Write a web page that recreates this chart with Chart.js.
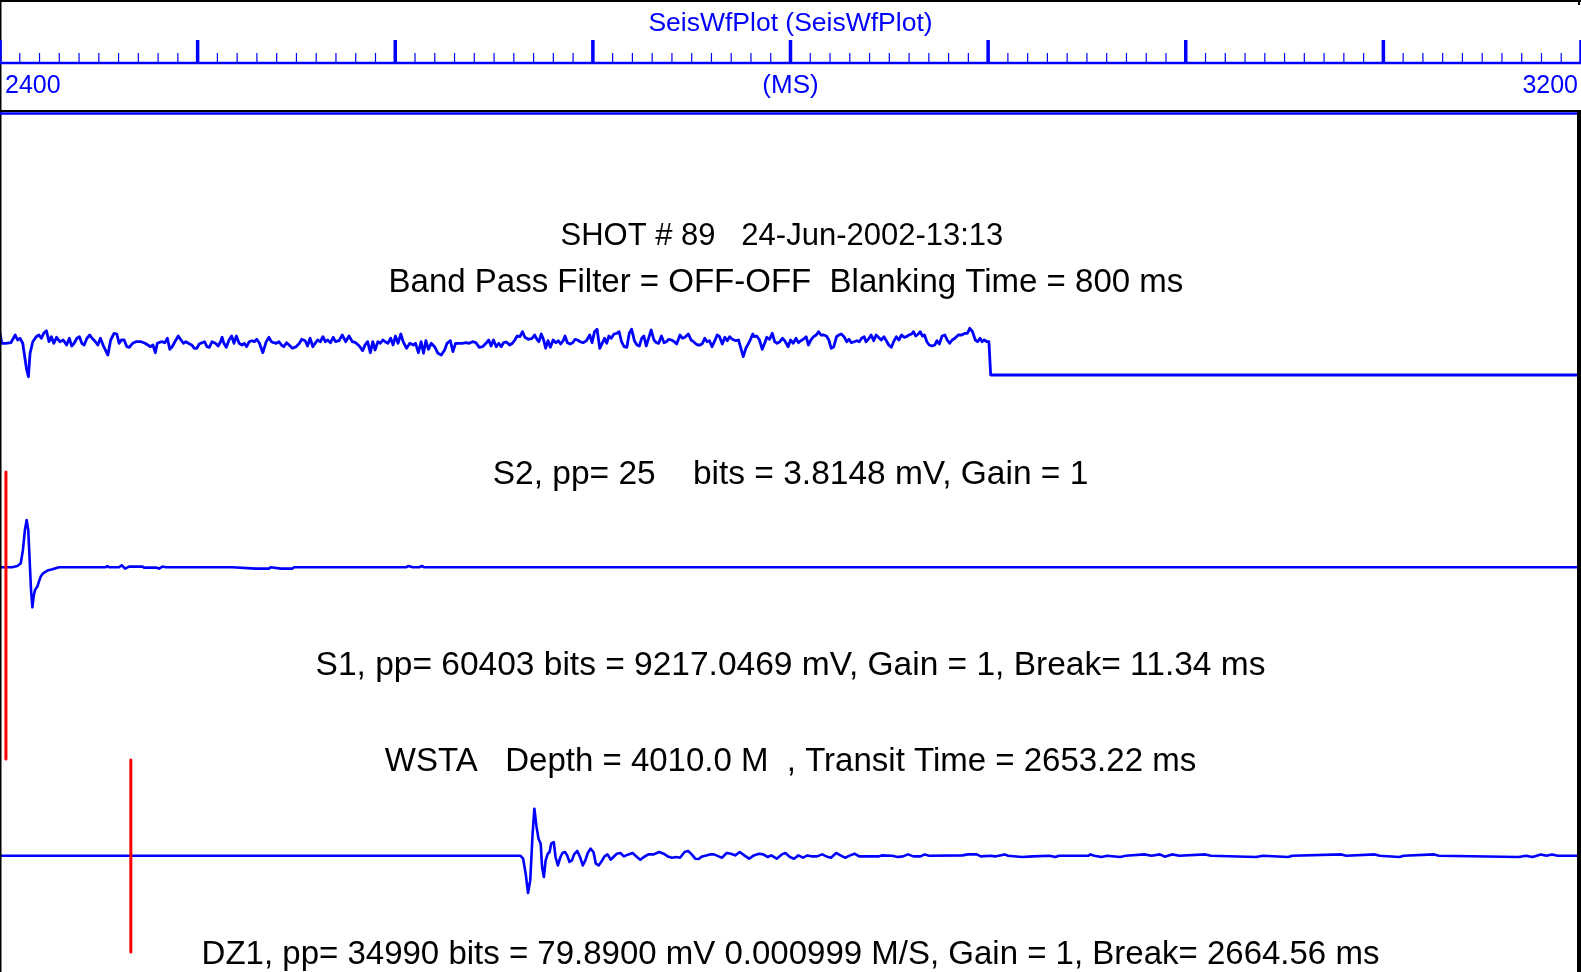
<!DOCTYPE html>
<html>
<head>
<meta charset="utf-8">
<title>SeisWfPlot</title>
<script src="https://cdn.jsdelivr.net/npm/chart.js@4.4.1/dist/chart.umd.min.js"></script>
<style>
  html, body { margin: 0; padding: 0; background: #fff; overflow: hidden; }
  #wrap { width: 1581px; height: 972px; }
</style>
</head>
<body>
<div id="wrap"><canvas id="seisChart" width="1581" height="972"></canvas></div>
<script>
// Time axis (ms)
const axisRange = [2400, 3200];
const majorStep = 100;
const minorStep = 10;
const tickLabels = ["2400", "(MS)", "3200"];
const plotTitle = "SeisWfPlot (SeisWfPlot)";

// S2 trace: time (ms) / amplitude (display units)
const s2Time = [
  2400.0, 2400.9, 2402.9, 2405.5, 2407.7, 2408.9, 2410.1, 2411.5, 2413.5, 2414.4,
  2415.2, 2416.6, 2418.3, 2419.7, 2420.9, 2422.1, 2423.5, 2424.8, 2426.0, 2427.2,
  2428.6, 2430.3, 2432.0, 2433.7, 2435.1, 2436.3, 2437.5, 2438.9, 2440.2, 2441.4,
  2442.6, 2444.0, 2445.4, 2446.6, 2448.3, 2449.5, 2450.8, 2452.5, 2454.6, 2456.0,
  2457.7, 2459.1, 2460.3, 2461.4, 2462.8, 2464.2, 2465.4, 2467.1, 2468.8, 2471.4,
  2473.4, 2474.8, 2476.2, 2477.4, 2478.6, 2479.6, 2481.6, 2483.4, 2484.7, 2485.9,
  2487.1, 2488.5, 2490.2, 2491.6, 2492.8, 2494.0, 2495.3, 2497.0, 2498.4, 2499.6,
  2500.8, 2502.2, 2503.5, 2504.7, 2505.9, 2507.3, 2509.0, 2510.4, 2511.6, 2512.4,
  2513.3, 2514.5, 2515.9, 2517.2, 2518.4, 2519.6, 2521.0, 2522.4, 2523.6, 2524.8,
  2526.1, 2527.5, 2528.7, 2529.9, 2531.3, 2533.0, 2534.7, 2536.1, 2537.3, 2538.5,
  2539.8, 2541.2, 2542.4, 2543.6, 2545.0, 2546.3, 2548.0, 2549.8, 2551.5, 2552.7,
  2554.4, 2555.6, 2556.9, 2558.3, 2559.5, 2560.7, 2562.1, 2563.4, 2564.6, 2565.8,
  2567.2, 2568.6, 2569.8, 2571.5, 2573.2, 2574.9, 2576.6, 2578.3, 2580.0, 2581.8,
  2583.5, 2584.7, 2586.0, 2587.4, 2588.6, 2589.8, 2591.2, 2592.5, 2593.7, 2594.9,
  2596.3, 2597.7, 2598.9, 2600.1, 2601.4, 2602.8, 2604.0, 2605.7, 2607.4, 2609.1,
  2610.3, 2611.7, 2613.1, 2614.3, 2615.5, 2616.8, 2618.2, 2619.9, 2621.6, 2623.3,
  2625.0, 2626.2, 2627.9, 2629.2, 2630.5, 2632.2, 2633.9, 2635.7, 2637.4, 2639.1,
  2640.8, 2642.5, 2644.2, 2645.9, 2647.3, 2648.5, 2649.7, 2651.1, 2652.4, 2653.6,
  2654.8, 2656.2, 2657.9, 2659.3, 2660.5, 2661.7, 2663.0, 2664.4, 2665.6, 2667.3,
  2669.3, 2670.5, 2671.7, 2672.7, 2673.9, 2675.1, 2676.1, 2677.3, 2678.5, 2679.9,
  2681.3, 2682.5, 2683.7, 2685.0, 2685.9, 2687.1, 2688.5, 2689.8, 2691.0, 2692.2,
  2693.6, 2695.0, 2696.7, 2698.4, 2699.6, 2700.8, 2702.1, 2703.5, 2704.7, 2705.9,
  2707.0, 2708.1, 2709.3, 2710.7, 2712.1, 2713.3, 2714.5, 2715.8, 2717.2, 2718.4,
  2719.6, 2721.0, 2722.3, 2723.5, 2724.7, 2725.8, 2727.0, 2728.2, 2729.5, 2730.9,
  2732.1, 2733.3, 2734.7, 2736.0, 2737.2, 2738.4, 2739.8, 2741.2, 2742.4, 2744.1,
  2745.3, 2746.6, 2748.3, 2749.7, 2750.9, 2751.8, 2753.1, 2754.3, 2755.5, 2756.6,
  2757.8, 2759.0, 2760.3, 2761.7, 2762.9, 2764.1, 2765.5, 2766.8, 2768.0, 2769.2,
  2770.6, 2772.3, 2773.7, 2774.9, 2776.1, 2777.4, 2778.8, 2780.0, 2780.9, 2781.7,
  2782.9, 2784.3, 2785.7, 2786.9, 2788.0, 2789.4, 2790.8, 2792.0, 2793.2, 2794.6,
  2795.9, 2797.1, 2798.8, 2800.0, 2801.4, 2802.8, 2804.0, 2805.2, 2806.5, 2807.9,
  2809.1, 2810.3, 2811.7, 2813.0, 2814.2, 2815.4, 2816.8, 2818.2, 2819.4, 2820.6,
  2821.9, 2823.3, 2824.5, 2825.7, 2827.1, 2828.4, 2829.6, 2830.8, 2832.2, 2833.6,
  2834.8, 2836.0, 2837.3, 2838.2, 2839.4, 2840.8, 2842.1, 2843.3, 2844.5, 2845.9,
  2847.3, 2848.5, 2849.7, 2851.0, 2852.4, 2853.6, 2854.8, 2856.2, 2857.5, 2858.7,
  2859.9, 2861.3, 2862.2, 2863.4, 2864.7, 2865.6, 2866.8, 2867.8, 2869.0, 2870.2,
  2871.6, 2873.0, 2874.1, 2875.3, 2876.7, 2878.1, 2879.3, 2880.5, 2881.8, 2883.2,
  2884.9, 2886.6, 2888.3, 2889.5, 2890.7, 2892.1, 2893.5, 2894.7, 2895.9, 2896.9,
  2898.1, 2899.3, 2900.4, 2901.3, 3200.0
];
const s2Amp = [
  6.7, -3.3, -3.3, -2.7, 5, 0, 1.7, -3.3, -30, -36.7,
  -13.3, -1.7, 3.3, 5, 1.7, 6.7, 9.3, -1.7, 3.3, -3.3,
  2.7, -1.7, 0, -5, 1.7, -6, -3.3, 1.7, 3.3, -3.3,
  -5, 1.7, 5, 1.7, -1.7, -5, 1.7, -6.7, -15, 0,
  6.7, 6, -3.3, 0, 0, -6.7, -7.3, -3.3, -1.7, -1.7,
  -3.3, -5, -6.7, -5, -12.7, -3.3, -1.7, -2.7, 1.7, -9.3,
  -6.7, -1.7, 4, 0, -3.3, -1.7, -3.3, -5, -8.3, -8.3,
  -4, -2.7, -1.7, -6.7, -7.3, -1.7, -3.3, -6, -1.7, 2.7,
  -3.3, -7.3, 0, 4, -3.3, 4, -3.3, -5, -3.3, -6.7,
  -1.7, -0.7, -1.7, 0.7, -3.3, -12.7, -1.7, 2.7, -1.7, -2.7,
  -3.3, -1.7, -5, -6.7, -2.7, -5, -8.3, -6.7, -3.3, 0.7,
  -0.7, -6, 1.7, -6.7, -3.3, 0, -1.7, 3.3, -1.7, 0,
  -2.7, 2.7, -1.7, -0.7, 5, -1.7, 4, -1.7, -2.7, -6,
  -10.7, -5, -1.7, -12.7, -1.7, -10, -1.7, -3.3, 0, -1.7,
  -3.3, 1.7, -5, 4, -3.3, 6, -1.7, -8.3, -3.3, -5,
  -3.3, -12.7, -1.7, -13.3, -0.7, -9.3, -3.3, -6.7, -13.3, -15,
  -10, -3.3, -0.7, -11.7, -3.3, -3.3, -3.3, -2.7, -3.3, -1.7,
  -2.7, -7.3, -6.7, -3.3, 0, -6, 0, -6.7, -3.3, -6.7,
  -2.7, -2, -5, -3.3, 0, 4, 3.3, 8.3, 2.7, 0.7,
  1.7, 5, 0.7, -1.7, 6, 0, -8.3, -0.7, -7.3, 0,
  -2.7, -0.7, -4, -0.7, 4, -2.7, -4, -2.7, 0.7, 0,
  -1.7, -2.7, -0.7, 5, -2.7, 8.3, 10.7, -8.3, -3.3, 1.7,
  -3.3, 4, 1.7, 6, 6.7, 8.3, -1.7, -6.7, -7.3, 6.7,
  10.7, -0.7, -5, -6, 1.7, 4, -6, 1.7, 10, 0,
  -2.7, -3.3, 4, -2.7, -1.7, 0.7, 0, -1.7, -4, 5,
  1.7, 2.7, 6, 0, -1.7, -3.3, -5, -5, -3.3, 1.7,
  -1.7, -0.7, -6.7, -0.7, 5, 3.3, -4, 2.7, -0.7, 3.3,
  0.7, -0.7, 0, -8.3, -16.7, -8.3, -3.3, 1.7, 6, 3.3,
  4, 0, -9.3, -3.3, 2.7, 0.7, 6.7, -1.7, -3.3, -1.7,
  1.7, -0.7, -6.7, 0, -3.3, 1.7, -2.7, -0.7, 0.7, 3.3,
  -5, 0, 3.3, 5, 8.3, 5, 5, 4, 0, -8.3,
  -6.7, 3.3, 5, 6, 3.3, -1.7, 0.7, -2.7, -1.7, -0.7,
  -1.7, 1.7, 3.3, -1.7, 0.7, 5, -0.7, 5, 2.7, 0,
  3.3, -0.7, -5, -7.3, -0.7, 3.3, 0, 5, 2.7, 3.3,
  5, 6, 8.3, 4, 6, 8.3, 4, 5, -1.7, -5,
  -6, -5, -0.7, -4, 4, 5, 0, -3.3, 0, 1.7,
  5, 5, 6.7, 6.7, 11.7, 8.3, 0, -1.7, 1.7, -1.7,
  0, -1.7, -1.7, -35, -35
];

// S1 trace
const s1Time = [
  2400.0, 2406.2, 2408.8, 2410.5, 2411.6, 2412.6, 2413.5, 2414.3, 2415.0, 2415.7,
  2416.4, 2417.0, 2417.7, 2418.9, 2419.7, 2420.6, 2421.8, 2424.0, 2426.5, 2429.9,
  2453.5, 2454.3, 2455.2, 2460.2, 2461.6, 2463.3, 2465.3, 2472.1, 2472.9, 2478.8,
  2480.5, 2482.2, 2483.9, 2517.6, 2529.4, 2536.2, 2537.0, 2542.1, 2548.0, 2548.8,
  2605.4, 2606.7, 2608.8, 2612.1, 2613.5, 2614.7, 3200.0
];
const s1Amp = [
  0, 0, 1.3, 4, 17.3, 37.3, 47.3, 37.3, 7.3, -22.7,
  -40, -29.3, -22.7, -19.3, -14.3, -9.3, -6, -3.3, -2, 0,
  0, 1.3, 0, 0, 2, -1.3, 0.7, 0.7, -0.3, -0.3,
  -1.3, 0.7, 0, 0, -1.3, -1.3, 0, -1.3, -1.3, 0,
  0, 1.3, 0, 0, 1.3, 0, 0
];

// DZ1 trace
const dz1Time = [
  2400.0, 2663.3, 2664.7, 2666.0, 2667.2, 2668.3, 2669.5, 2670.4, 2671.5, 2672.5,
  2673.6, 2674.3, 2675.2, 2676.1, 2677.2, 2678.1, 2678.9, 2680.2, 2681.1, 2682.3,
  2683.6, 2684.6, 2685.9, 2687.0, 2688.2, 2689.4, 2690.5, 2692.1, 2693.5, 2694.9,
  2696.2, 2697.4, 2698.8, 2700.3, 2701.5, 2702.9, 2704.2, 2705.9, 2707.4, 2709.1,
  2710.4, 2712.1, 2713.9, 2715.7, 2718.0, 2720.1, 2722.3, 2724.0, 2725.8, 2728.1,
  2730.8, 2733.5, 2735.8, 2737.9, 2740.0, 2742.3, 2744.1, 2746.4, 2748.2, 2750.0,
  2751.8, 2753.5, 2755.3, 2757.4, 2759.2, 2761.3, 2763.6, 2765.4, 2767.7, 2769.9,
  2772.0, 2774.3, 2776.6, 2779.1, 2781.4, 2784.1, 2786.2, 2788.5, 2790.3, 2793.0,
  2795.6, 2797.4, 2799.7, 2801.8, 2804.0, 2806.3, 2808.6, 2811.1, 2813.4, 2816.0,
  2818.2, 2820.5, 2823.1, 2825.3, 2827.6, 2830.2, 2832.4, 2834.7, 2837.3, 2844.4,
  2846.2, 2851.5, 2854.2, 2856.9, 2859.5, 2862.2, 2865.8, 2867.9, 2870.2, 2887.0,
  2889.7, 2894.2, 2896.3, 2901.3, 2903.4, 2908.4, 2910.1, 2917.2, 2922.6, 2931.1,
  2934.0, 2935.8, 2950.8, 2951.8, 2953.7, 2957.4, 2960.2, 2966.8, 2969.6, 2979.0,
  2982.7, 2986.9, 2989.3, 2993.1, 2996.8, 3009.9, 3012.8, 3035.6, 3039.0, 3051.8,
  3054.0, 3078.8, 3081.2, 3095.7, 3098.1, 3108.1, 3110.3, 3125.7, 3128.1, 3168.5,
  3172.2, 3175.4, 3179.7, 3182.5, 3185.3, 3188.2, 3200.0
];
const dz1Amp = [
  0, 0, -3, -18, -37.3, -24.7, 22, 47, 28.7, 17,
  12, -11.3, -21.3, -4.7, 2, 3.7, 12, 13.7, -1.3, -9.7,
  -1.3, 2.7, 3.7, 0.3, -6.3, -4.7, 1.3, 4.7, -1.3, -9.7,
  -4.7, 2.7, 7, 3.7, -8, -9.7, -6.3, -0.7, 1.3, -4,
  -1.3, 2, 2.7, -0.7, 1.3, 2.7, -1.3, -4, -1.3, 1.3,
  1.3, 3.7, 2, -0.7, -2, -1.3, -2, 3.7, 4.7, 1.3,
  -3, -3.3, -0.7, 0.3, 1.3, 1.3, -0.7, -2, 2.7, 2,
  0.3, 3.7, 0.3, -3, 0.3, 2, 1.3, -1.3, 0.3, -3,
  1.3, 2.7, -1.3, -3, 0.3, -2, 0.3, -0.7, -0.7, 1.3,
  -0.7, -2, 2.7, 0.3, -2, 0.3, 2, -0.7, -0.7, -0.7,
  0.3, 0, -1.3, -0.7, 1.3, -0.7, -0.7, 1.3, 0, 0.3,
  1.3, 1.3, -0.7, 0, -0.7, 1.3, 0, -1.3, -0.7, 0,
  -1.3, 0, 0, 1.3, 0, -1.3, 0, -1.3, 0, 1.3,
  0, 1.3, -1, 1.3, 0, 1.3, 0, -1.3, 0, -1.3,
  0, 1.3, 0, 1.3, 0, -1.3, 0, 1.3, 0, -1.3,
  0, -1.3, 1.3, 0, 1.3, 0, 0
];

// Break marks (ms) for S1 and DZ1
const breakTimes = [2403.0, 2466.2];

const headerText = [
  "SHOT # 89   24-Jun-2002-13:13  ",
  "Band Pass Filter = OFF-OFF  Blanking Time = 800 ms "
];
const traceText = [
  "S2, pp= 25    bits = 3.8148 mV, Gain = 1",
  "S1, pp= 60403 bits = 9217.0469 mV, Gain = 1, Break= 11.34 ms",
  "WSTA   Depth = 4010.0 M  , Transit Time = 2653.22 ms",
  "DZ1, pp= 34990 bits = 79.8900 mV 0.000999 M/S, Gain = 1, Break= 2664.56 ms"
];

// --- layout (page pixels) ---
const W = 1581, H = 972;
const headerH = 113;
const plotH = H - headerH;          // y scale runs 0..plotH, 1 unit = 1 px
const baseS2 = plotH - (340 - headerH);
const baseS1 = plotH - (567.3 - headerH);
const baseDZ1 = plotH - (855.7 - headerH);
const textBaselines = [245, 292, 484, 675, 771, 964];
const textSizes = [31, 33, 33.5, 33.5, 33, 33];
const BLUE = "#0000ff";
const FONT = "'Liberation Sans', Arial, Helvetica, sans-serif";

function trace(times, amps, base) {
  return times.map((t, i) => ({ x: t, y: base + amps[i] }));
}
function mark(t, base, up, down) {
  return [{ x: t, y: base + up }, { x: t, y: base + down }];
}

const framePlugin = {
  id: "framePlugin",
  beforeDraw(chart) {
    const c = chart.ctx;
    c.save();
    c.fillStyle = "#fff";
    c.fillRect(0, 0, chart.width, chart.height);
    c.restore();
  },
  afterDraw(chart) {
    const c = chart.ctx;
    const xs = chart.scales.x;
    c.save();

    function seg(x1, y1, x2, y2, color, w) {
      c.beginPath();
      c.strokeStyle = color;
      c.lineWidth = w;
      c.moveTo(x1, y1);
      c.lineTo(x2, y2);
      c.stroke();
    }

    // frame
    seg(0, 1, W, 1, "#000", 2);
    seg(0.75, 0, 0.75, H, "#000", 1.5);
    seg(W - 2, 0, W - 2, 5, "#000", 2);
    seg(0, 111, W, 111, "#000", 2);
    seg(0, 113.5, W, 113.5, BLUE, 2.5);
    seg(W - 2, 112, W - 2, H, "#000", 4);

    // ruler
    seg(0, 63, W, 63, BLUE, 2.5);
    for (let t = axisRange[0]; t <= axisRange[1]; t += minorStep) {
      const px = xs.getPixelForValue(t);
      if ((t - axisRange[0]) % majorStep === 0) {
        seg(px, 40, px, 63, BLUE, 3.5);
      } else {
        seg(px, 53, px, 63, BLUE, 1.2);
      }
    }

    c.fillStyle = BLUE;
    c.textBaseline = "alphabetic";
    c.font = "26.5px " + FONT;
    c.textAlign = "center";
    c.fillText(plotTitle, W / 2, 31);
    c.font = "25px " + FONT;
    c.textAlign = "left";
    c.fillText(tickLabels[0], 5, 93);
    c.font = "26px " + FONT;
    c.textAlign = "center";
    c.fillText(tickLabels[1], xs.getPixelForValue((axisRange[0] + axisRange[1]) / 2), 93);
    c.font = "25px " + FONT;
    c.textAlign = "right";
    c.fillText(tickLabels[2], W - 3, 93);

    // captions
    c.fillStyle = "#000";
    c.textAlign = "center";
    const lines = headerText.concat(traceText);
    lines.forEach((s, i) => {
      c.font = textSizes[i] + "px " + FONT;
      c.fillText(s, W / 2, textBaselines[i]);
    });

    c.restore();
  }
};

const ctx = document.getElementById("seisChart").getContext("2d");
const chart = new Chart(ctx, {
  type: "line",
  data: {
    datasets: [
      { label: "S1 break", data: mark(breakTimes[0], baseS1, 95.3, -191.7), borderColor: "#ff0000", borderWidth: 3 },
      { label: "DZ1 break", data: mark(breakTimes[1], baseDZ1, 95.7, -96.3), borderColor: "#ff0000", borderWidth: 3 },
      { label: "S2", data: trace(s2Time, s2Amp, baseS2), borderColor: BLUE, borderWidth: 2.8 },
      { label: "S1", data: trace(s1Time, s1Amp, baseS1), borderColor: BLUE, borderWidth: 2.6 },
      { label: "DZ1", data: trace(dz1Time, dz1Amp, baseDZ1), borderColor: BLUE, borderWidth: 2.6 }
    ]
  },
  options: {
    responsive: false,
    devicePixelRatio: 1,
    animation: false,
    events: [],
    layout: { padding: { top: headerH, left: 0, right: 0, bottom: 0 } },
    elements: {
      point: { radius: 0 },
      line: { tension: 0, fill: false, borderJoinStyle: "round" }
    },
    scales: {
      x: { type: "linear", min: axisRange[0], max: axisRange[1], display: false },
      y: { type: "linear", min: 0, max: plotH, display: false }
    },
    plugins: {
      legend: { display: false },
      tooltip: { enabled: false },
      title: { display: false }
    }
  },
  plugins: [framePlugin]
});
</script>
</body>
</html>
